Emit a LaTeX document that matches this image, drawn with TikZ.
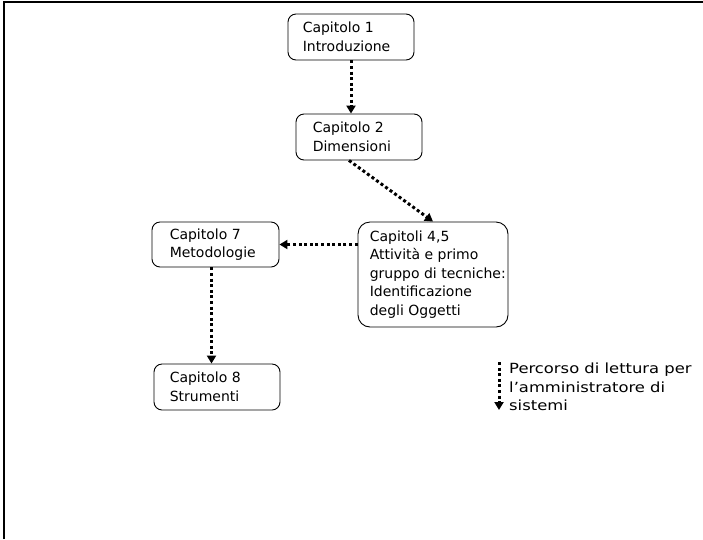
\documentclass[tikz,border=0pt]{standalone}
\usepackage{fontspec}
\setmainfont{DejaVu Sans}
\newfontfamily\legendfont[FakeStretch=1.17]{DejaVu Sans}
\usetikzlibrary{arrows.meta}
\begin{document}
\begin{tikzpicture}[x=1pt,y=-1pt,
  chapbox/.style={draw, rounded corners=8pt, line width=0.9pt, inner sep=0pt},
  chaptext/.style={anchor=west, align=left, inner sep=0pt,
    font=\fontsize{14}{18.5}\selectfont},
  readpath/.style={line width=3pt, dash pattern=on 3pt off 2.6pt,
    -{Triangle[width=9pt,length=8pt]}},
  frame/.style={line width=1.2pt}]
\useasboundingbox (0,0) rectangle (703,539);
% outer frame (top and left edges)
\draw[frame] (4,539) -- (4,2) -- (703,2);

% chapter boxes
\node[chapbox, minimum width=126, minimum height=46] (c1) at (351,37) {};
\node[chapbox, minimum width=126, minimum height=46] (c2) at (359,137) {};
\node[chapbox, minimum width=150, minimum height=105, rounded corners=12pt] (c45) at (433,274.5) {};
\node[chapbox, minimum width=127, minimum height=45] (c7) at (215.5,244.5) {};
\node[chapbox, minimum width=126, minimum height=46] (c8) at (217,387) {};

% chapter labels
\node[chaptext] (t1) at ([xshift=15]c1.west) {Capitolo 1\\Introduzione};
\node[chaptext] (t2) at ([xshift=17]c2.west) {Capitolo 2\\Dimensioni};
\node[chaptext] (t45) at ([xshift=12]c45.west) {Capitoli 4,5\\Attività e primo\\gruppo di tecniche:\\Identificazione\\degli Oggetti};
\node[chaptext] (t7) at ([xshift=18]c7.west) {Capitolo 7\\Metodologie};
\node[chaptext] (t8) at ([xshift=16]c8.west) {Capitolo 8\\Strumenti};

% reading path
\draw[readpath] (c1.south) -- (c1.south |- c2.north);
\draw[readpath] ([xshift=-10]c2.south) -- (c45.north);
\draw[readpath] (c45.west |- c7.east) -- (c7.east);
\draw[readpath] ([xshift=-4]c7.south) -- ([xshift=-4]c7.south |- c8.north);

% legend
\coordinate (l1) at (499,362);
\coordinate (l2) at (499,410);
\draw[readpath] (l1) -- (l2);
\node[chaptext, font=\legendfont\fontsize{14}{18.5}\selectfont] (lt) at (509,387)
  {Percorso di lettura per\\l’amministratore di\\sistemi};
\end{tikzpicture}
\end{document}
